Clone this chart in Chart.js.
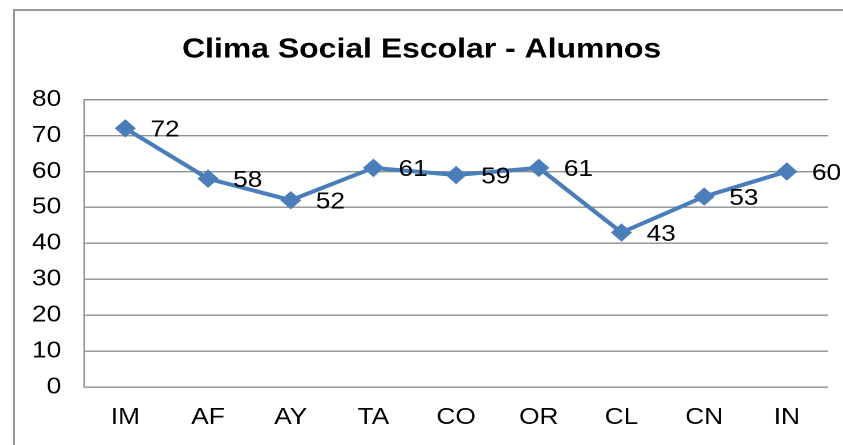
<!DOCTYPE html>
<html>
<head>
<meta charset="utf-8">
<script src="https://cdn.jsdelivr.net/npm/chart.js@4.4.0/dist/chart.umd.min.js"></script>
<style>
  html, body { margin: 0; padding: 0; background: #fff; overflow: hidden; }
  body { width: 843px; height: 445px; position: relative; }
  #frame {
    position: absolute; left: 13px; top: 9px; width: 900px; height: 500px;
    border-left: 2px solid #999; border-top: 2px solid #999;
  }
  #chart { position: absolute; left: 0; top: 0; }
</style>
</head>
<body>
<div id="frame">
  <!-- the original picture is stretched sideways, so the canvas is too -->
  <canvas id="chart" width="740" height="434" style="width:844px;height:434px"></canvas>
</div>
<script>
// Chart data
const categories = ['IM', 'AF', 'AY', 'TA', 'CO', 'OR', 'CL', 'CN', 'IN'];
const values = [72, 58, 52, 61, 59, 61, 43, 53, 60];
const yTicks = [0, 10, 20, 30, 40, 50, 60, 70, 80];

const lineColor = '#4A7EBB';
const gridColor = '#8e8e8e';
const fontFamily = '"Liberation Sans", Arial, sans-serif';

// Draw the value next to each point
const valueLabels = {
  id: 'valueLabels',
  afterDatasetsDraw(chart) {
    const ctx = chart.ctx;
    const meta = chart.getDatasetMeta(0);
    ctx.save();
    ctx.font = '23px ' + fontFamily;
    ctx.fillStyle = '#000';
    ctx.textAlign = 'left';
    ctx.textBaseline = 'middle';
    meta.data.forEach((pt, i) => {
      ctx.fillText(String(values[i]), pt.x + 22, pt.y + 2);
    });
    ctx.restore();
  }
};

new Chart(document.getElementById('chart'), {
  type: 'line',
  data: {
    labels: categories,
    datasets: [{
      data: values,
      borderColor: lineColor,
      backgroundColor: lineColor,
      borderWidth: 4,
      pointStyle: 'rectRot',
      pointRadius: 8.5,
      pointBackgroundColor: lineColor,
      pointBorderColor: lineColor,
      pointBorderWidth: 1,
      tension: 0
    }]
  },
  options: {
    responsive: false,
    animation: false,
    devicePixelRatio: 2,
    layout: { padding: { left: 0, right: 27, top: 0, bottom: 0 } },
    plugins: {
      legend: { display: false },
      tooltip: { enabled: false },
      title: {
        display: true,
        text: 'Clima Social Escolar - Alumnos',
        color: '#000',
        font: { family: fontFamily, size: 28, weight: 'bold' },
        padding: { top: 22, bottom: 33 }
      }
    },
    scales: {
      x: {
        offset: true,
        grid: { display: false, drawTicks: false },
        border: { display: false },
        ticks: { color: '#000', font: { family: fontFamily, size: 23 }, padding: 17 },
        afterFit(scale) { scale.height = 58; }
      },
      y: {
        min: 0,
        max: 80,
        afterBuildTicks(scale) { scale.ticks = yTicks.map(v => ({ value: v })); },
        grid: { color: gridColor, lineWidth: 1.4, drawTicks: false },
        border: { display: true, color: gridColor, width: 1.4 },
        ticks: { color: '#000', font: { family: fontFamily, size: 23 }, padding: 20 },
        afterFit(scale) { scale.width = 60.5; }
      }
    }
  },
  plugins: [valueLabels]
});
</script>
</body>
</html>
